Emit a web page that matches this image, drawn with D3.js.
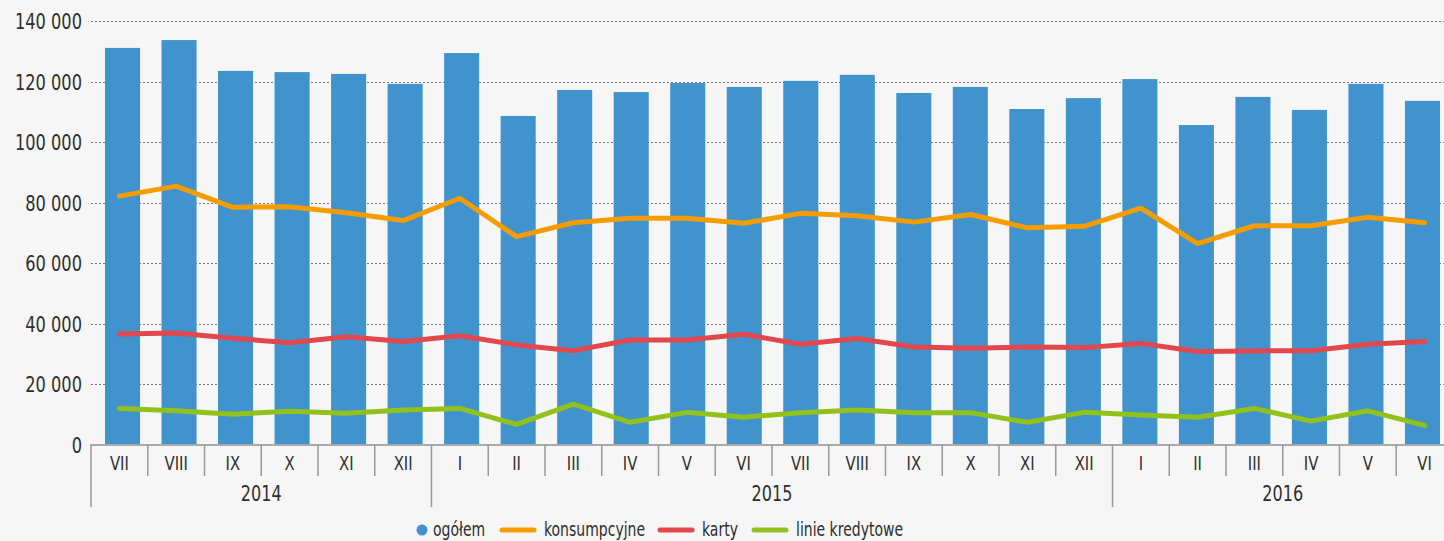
<!DOCTYPE html>
<html>
<head>
<meta charset="utf-8">
<script src="https://cdn.jsdelivr.net/npm/d3@7"></script>
<style>
  html, body { margin: 0; padding: 0; background: #f6f6f6; }
  svg { display: block; }
  text { font-family: "Liberation Sans Narrow", "DejaVu Sans Condensed", Roboto, sans-serif; fill: #2e2e2e; }
</style>
</head>
<body>
<svg id="chart" width="1444" height="541"></svg>
<script>
// months, July 2014 .. June 2016
var months = ["VII", "VIII", "IX", "X", "XI", "XII", "I", "II", "III", "IV", "V", "VI",
              "VII", "VIII", "IX", "X", "XI", "XII", "I", "II", "III", "IV", "V", "VI"];
var years = ["2014", "2015", "2016"];
var yearMonths = [6, 12, 6];

var ogolem = [131200, 133800, 123600, 123200, 122600, 119300, 129500, 108700, 117300, 116600, 119600, 118300,
              120300, 122300, 116300, 118300, 111000, 114600, 120900, 105700, 115000, 110700, 119300, 113700];
var konsumpcyjne = [82200, 85500, 78500, 78700, 76700, 74100, 81500, 68800, 73400, 74900, 74900, 73200,
                    76500, 75700, 73600, 76100, 71700, 72200, 78200, 66500, 72400, 72400, 75200, 73400];
var karty = [36600, 36900, 35200, 33700, 35700, 34100, 36000, 33000, 31100, 34600, 34600, 36500,
             33200, 35100, 32300, 31900, 32300, 32100, 33500, 30800, 31000, 31100, 33200, 34100];
var linie = [12000, 11200, 10100, 11100, 10400, 11500, 12000, 6700, 13400, 7400, 10700, 9100,
             10600, 11500, 10600, 10600, 7400, 10700, 9800, 9100, 12000, 7800, 11200, 6400];
var yTicks = [0, 20000, 40000, 60000, 80000, 100000, 120000, 140000];

var series = [
    { name: "konsumpcyjne", values: konsumpcyjne, color: "#f59d00" },
    { name: "karty", values: karty, color: "#e2474d" },
    { name: "linie kredytowe", values: linie, color: "#92c11c" }
];
var barColor = "#4093cc";

var svg = d3.select("#chart");
var idx = d3.range(months.length);

var x = d3.scaleBand().domain(idx).range([91, 1453]);
var xBar = d3.scaleBand().domain(idx).range([105, 1440]).paddingInner(0.38);
var y = d3.scaleLinear().domain([0, 140000]).range([444.7, 21.3]);

var fmt = d3.formatLocale({ decimal: ",", thousands: " ", grouping: [3], currency: ["", ""] }).format(",d");

// the original font is a narrow one, squeeze the text a bit
function place(sel, fx, fy, sx) {
    sel.attr("transform", (d, i) => `translate(${fx(d, i)},${fy(d, i)}) scale(${sx},1)`);
}

// grid
svg.append("g")
    .selectAll("line")
    .data(yTicks.filter(d => d > 0))
    .join("line")
    .attr("x1", 91)
    .attr("x2", 1444)
    .attr("y1", d => Math.round(y(d)) + 0.5)
    .attr("y2", d => Math.round(y(d)) + 0.5)
    .attr("stroke", "#777")
    .attr("stroke-width", 1)
    .attr("stroke-dasharray", "2,2");

// y labels
svg.append("g")
    .selectAll("text")
    .data(yTicks)
    .join("text")
    .call(place, () => 82, d => y(d), 0.82)
    .attr("dy", "0.36em")
    .attr("text-anchor", "end")
    .style("font-size", "22px")
    .text(d => fmt(d));

// bars
svg.append("g")
    .selectAll("rect")
    .data(ogolem)
    .join("rect")
    .attr("x", (d, i) => xBar(i))
    .attr("y", d => y(d))
    .attr("width", xBar.bandwidth())
    .attr("height", d => y(0) - y(d))
    .attr("fill", barColor);

// lines
var line = d3.line()
    .x((d, i) => x(i) + x.bandwidth() / 2)
    .y(d => y(d));

svg.append("g")
    .selectAll("path")
    .data(series)
    .join("path")
    .attr("d", d => line(d.values))
    .attr("fill", "none")
    .attr("stroke", d => d.color)
    .attr("stroke-width", 5)
    .attr("stroke-linecap", "round")
    .attr("stroke-linejoin", "round");

// x axis
var axis = svg.append("g");
axis.append("line")
    .attr("x1", 90).attr("x2", 1444)
    .attr("y1", 445).attr("y2", 445)
    .attr("stroke", "#aaa").attr("stroke-width", 2);

var yearStart = [0];
yearMonths.forEach((n, i) => yearStart.push(yearStart[i] + n));

axis.selectAll(".sep")
    .data(idx)
    .join("line")
    .attr("class", "sep")
    .attr("x1", d => x(d)).attr("x2", d => x(d))
    .attr("y1", 445)
    .attr("y2", d => yearStart.includes(d) ? 507 : 476)
    .attr("stroke", "#999").attr("stroke-width", 1.5);

axis.selectAll(".month")
    .data(months)
    .join("text")
    .attr("class", "month")
    .call(place, (d, i) => x(i) + x.bandwidth() / 2, () => 463, 0.87)
    .attr("dy", "0.36em")
    .attr("text-anchor", "middle")
    .style("font-size", "19px")
    .text(d => d);

axis.selectAll(".year")
    .data(years)
    .join("text")
    .attr("class", "year")
    .call(place, (d, i) => {
        var a = x(yearStart[i]);
        var b = x(yearStart[i + 1] - 1) + x.bandwidth();
        return (a + b) / 2;
    }, () => 493, 0.85)
    .attr("dy", "0.36em")
    .attr("text-anchor", "middle")
    .style("font-size", "21px")
    .text(d => d);

// legend
var lg = svg.append("g").attr("transform", "translate(0,530)");
lg.append("circle").attr("cx", 422).attr("cy", 0).attr("r", 5.5).attr("fill", barColor);
lg.append("text")
    .attr("transform", "translate(433,0) scale(0.82,1)")
    .attr("dy", "0.33em").style("font-size", "19px").text("ogółem");

var legendX = [502, 660, 754];
series.forEach(function (s, i) {
    lg.append("line")
        .attr("x1", legendX[i]).attr("x2", legendX[i] + 32)
        .attr("y1", 0).attr("y2", 0)
        .attr("stroke", s.color).attr("stroke-width", 5)
        .attr("stroke-linecap", "round");
    lg.append("text")
        .attr("transform", `translate(${legendX[i] + 42},0) scale(0.82,1)`)
        .attr("dy", "0.33em")
        .style("font-size", "19px")
        .text(s.name);
});
</script>
</body>
</html>
